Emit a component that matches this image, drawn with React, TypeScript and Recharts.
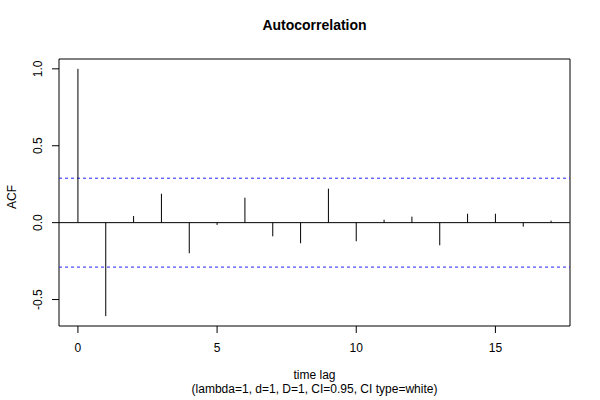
import React from 'react';
import { ComposedChart, XAxis, YAxis, ReferenceLine, ReferenceArea, Scatter } from 'recharts';

const lags = [0, 1, 2, 3, 4, 5, 6, 7, 8, 9, 10, 11, 12, 13, 14, 15, 16, 17];
const acfValues = [1.0, -0.608, 0.043, 0.188, -0.199, -0.015, 0.162, -0.089, -0.134, 0.221, -0.121, 0.019, 0.039, -0.147, 0.058, 0.058, -0.026, 0.013];
const confLimit = 0.289;
const xTicks = [0, 5, 10, 15];
const yTicks = [-0.5, 0, 0.5, 1.0];
const xDomain = [-0.68, 17.68];
const yDomain = [-0.672, 1.064];

const FONT = '"Liberation Sans", Arial, Helvetica, sans-serif';

const data = lags.map((lag, i) => ({ lag, acf: acfValues[i] }));

const YTick = (props: any) => {
  const { y, payload } = props;
  const bx = 42;
  return (
    <text
      x={bx}
      y={y}
      transform={`rotate(-90, ${bx}, ${y})`}
      textAnchor="middle"
      fontFamily={FONT}
      fontSize={12}
      fill="#000"
    >
      {Number(payload.value).toFixed(1)}
    </text>
  );
};

const XTick = (props: any) => {
  const { x, payload } = props;
  return (
    <text x={x} y={352} textAnchor="middle" fontFamily={FONT} fontSize={12} fill="#000">
      {payload.value}
    </text>
  );
};

export default function App() {
  return (
    <div style={{ position: 'absolute', left: 0, top: 0, width: 600, height: 400, background: '#fff' }}>
      <ComposedChart
        width={600}
        height={400}
        data={data}
        margin={{ top: 59, right: 30, left: 29, bottom: 44 }}
      >
        <XAxis
          dataKey="lag"
          type="number"
          domain={xDomain}
          ticks={xTicks}
          allowDataOverflow
          axisLine={false}
          tickLine={{ stroke: '#000' }}
          tickSize={7}
          height={30}
          tick={<XTick />}
          label={{
            content: () => (
              <g>
                <text x={314.5} y={379} textAnchor="middle" fontFamily={FONT} fontSize={12} fill="#000">time lag</text>
                <text x={314.5} y={393} textAnchor="middle" fontFamily={FONT} fontSize={12} fill="#000">(lambda=1, d=1, D=1, CI=0.95, CI type=white)</text>
              </g>
            ),
          }}
        />
        <YAxis
          type="number"
          domain={yDomain}
          ticks={yTicks}
          allowDataOverflow
          axisLine={false}
          tickLine={{ stroke: '#000' }}
          tickSize={7}
          width={30}
          tick={<YTick />}
          label={{
            content: () => (
              <text x={16} y={197} transform="rotate(-90, 16, 197)" textAnchor="middle" fontFamily={FONT} fontSize={12} fill="#000">ACF</text>
            ),
          }}
        />
        <ReferenceArea
          x1={xDomain[0]}
          x2={xDomain[1]}
          y1={yDomain[0]}
          y2={yDomain[1]}
          fill="none"
          stroke="#000"
          strokeWidth={1}
          ifOverflow="visible"
        />
        <ReferenceLine y={0} stroke="#000" strokeWidth={1} />
        <ReferenceLine y={confLimit} stroke="#2222ff" strokeDasharray="3 3" strokeWidth={1} />
        <ReferenceLine y={-confLimit} stroke="#2222ff" strokeDasharray="3 3" strokeWidth={1} />
        {lags.map((lag, i) => (
          <ReferenceLine
            key={lag}
            segment={[{ x: lag, y: 0 }, { x: lag, y: acfValues[i] }]}
            stroke="#000"
            strokeWidth={1}
          />
        ))}
        <Scatter dataKey="acf" isAnimationActive={false} shape={() => <g />} />
        <text x={314.5} y={30} textAnchor="middle" fontFamily={FONT} fontSize={14} fontWeight="bold" fill="#000">Autocorrelation</text>
      </ComposedChart>
    </div>
  );
}
